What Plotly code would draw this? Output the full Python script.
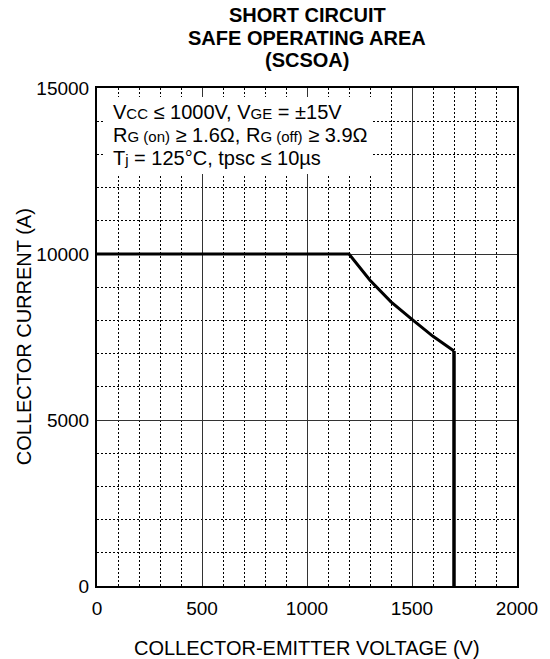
import plotly.graph_objects as go

# Data
vce = [0, 1200, 1300, 1400, 1500, 1600, 1700]
ic = [10000, 10000, 9210, 8560, 8030, 7520, 7080]
vert_x = [1700, 1700]
vert_y = [7080, 0]

x_ticks = [0, 500, 1000, 1500, 2000]
x_tick_labels = ["0", "500", "1000", "1500", "2000"]
y_ticks = [0, 5000, 10000, 15000]
y_tick_labels = ["0", "5000", "10000", "15000"]

title_lines = ["SHORT CIRCUIT", "SAFE OPERATING AREA", "(SCSOA)"]
SUB = "<span style='font-size:15px'>{}</span>"
cond_lines = [
    "V" + SUB.format("CC") + " ≤ 1000V, V" + SUB.format("GE") + " = ±15V",
    "R" + SUB.format("G (on)") + " ≥ 1.6Ω, R" + SUB.format("G (off)") + " ≥ 3.9Ω",
    "T" + SUB.format("j") + " = 125°C, tpsc ≤ 10µs",
]

W, H = 550, 659
L, R, T, B = 97, 524, 88, 586


def px(x):
    return (x - L) / (R - L)


def py(y):
    return (B - y) / (B - T)


fig = go.Figure()
fig.add_trace(go.Scatter(x=vce, y=ic, mode="lines", hoverinfo="skip",
                         line=dict(color="black", width=3), showlegend=False))
fig.add_trace(go.Scatter(x=vert_x, y=vert_y, mode="lines", hoverinfo="skip",
                         line=dict(color="black", width=3.5), showlegend=False))

font = "Liberation Sans, Arial, Helvetica, sans-serif"

axis_common = dict(
    showline=True, linecolor="black", linewidth=2, mirror=True,
    showgrid=True, gridcolor="#333333", gridwidth=1,
    ticks="", zeroline=False,
    tickfont=dict(size=19, color="black", family=font),
)

fig.update_xaxes(range=[0, 2000], tickvals=x_ticks, ticktext=x_tick_labels,
                 ticklabelstandoff=4,
                 minor=dict(dtick=100, showgrid=True, gridcolor="black",
                            griddash="2px,2px", gridwidth=1),
                 **axis_common)
fig.update_yaxes(range=[0, 15000], tickvals=y_ticks, ticktext=y_tick_labels,
                 ticklabelstandoff=2,
                 minor=dict(dtick=1000, showgrid=True, gridcolor="black",
                            griddash="2px,2px", gridwidth=1),
                 **axis_common)

# white box behind condition text
fig.add_shape(type="rect", xref="paper", yref="paper",
              x0=px(104), x1=px(377), y0=py(174), y1=py(97),
              fillcolor="white", line=dict(width=0), layer="above")

ann = []
for i, t in enumerate(title_lines):
    ann.append(dict(text="<b>" + t + "</b>", xref="paper", yref="paper",
                    x=px(311), y=py(15.5 + 22.5 * i), xanchor="center", yanchor="middle",
                    showarrow=False, font=dict(size=20, color="black", family=font)))
for i, t in enumerate(cond_lines):
    ann.append(dict(text=t, xref="paper", yref="paper",
                    x=px(111), y=py(111.5 + 23 * i), xanchor="left", yanchor="middle",
                    showarrow=False, font=dict(size=20, color="black", family=font)))
ann.append(dict(text="COLLECTOR-EMITTER VOLTAGE (V)", xref="paper", yref="paper",
                x=px(310), y=py(648), xanchor="center", yanchor="middle",
                showarrow=False, font=dict(size=20, color="black", family=font)))
ann.append(dict(text="COLLECTOR CURRENT (A)", xref="paper", yref="paper",
                x=px(23), y=py(337), xanchor="center", yanchor="middle", textangle=-90,
                showarrow=False, font=dict(size=20, color="black", family=font)))

fig.update_layout(
    width=W, height=H,
    margin=dict(l=L, r=W - R, t=T, b=H - B),
    paper_bgcolor="white", plot_bgcolor="white",
    annotations=ann,
    hovermode=False,
    font=dict(family=font, color="black"),
)

fig.write_html(
    "out.html",
    config={"displayModeBar": False, "staticPlot": True},
    post_script="document.body.style.margin='0';document.body.style.padding='0';"
                "document.body.style.overflow='hidden';",
)
